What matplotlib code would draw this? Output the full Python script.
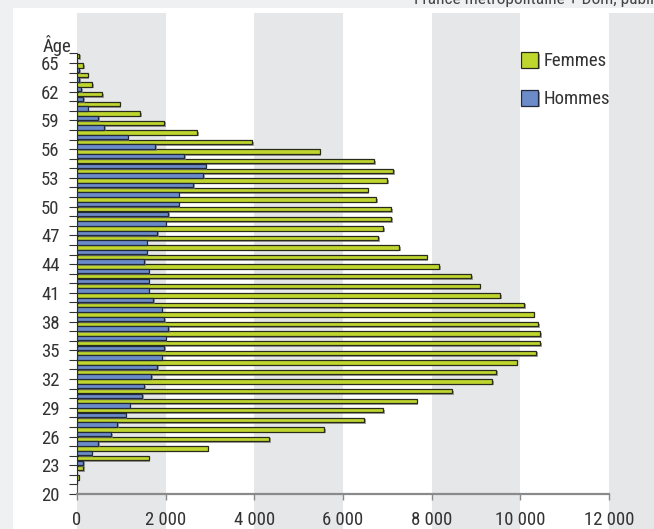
import matplotlib
matplotlib.use("Agg")
import matplotlib.pyplot as plt
import matplotlib.patheffects as pe
from matplotlib.patches import Rectangle
from matplotlib.transforms import blended_transform_factory

# data (age = lower edge of the one-year slot)
ages = list(range(65, 20, -1))
femmes = [50, 140, 240, 340, 570, 960, 1430, 1960, 2710, 3950, 5470, 6700, 7130, 6990,
          6560, 6750, 7080, 7080, 6900, 6800, 7270, 7890, 8170, 8890, 9080, 9540, 10080,
          10300, 10400, 10450, 10450, 10350, 9920, 9450, 9370, 8460, 7660, 6900, 6470,
          5570, 4330, 2950, 1620, 140, 40]
hommes = [10, 50, 50, 100, 140, 240, 480, 620, 1140, 1770, 2420, 2900, 2850, 2620, 2290,
          2290, 2050, 2000, 1810, 1570, 1570, 1520, 1620, 1620, 1620, 1720, 1910, 1960,
          2050, 2000, 1960, 1910, 1810, 1670, 1520, 1470, 1190, 1100, 910, 770, 480, 330,
          140, 0, 0]
xticks = [0, 2000, 4000, 6000, 8000, 10000, 12000]
xtick_labels = ["0", "2 000", "4 000", "6 000", "8 000", "10 000", "12 000"]
series_names = ["Femmes", "Hommes"]

green = "#bfd62f"
blue = "#6b8cc8"
text_col = "#333333"

plt.rcParams["font.family"] = ["Roboto Condensed", "Liberation Sans Narrow", "Roboto", "DejaVu Sans"]
plt.rcParams["font.size"] = 12

W, H = 654, 529
fig = plt.figure(figsize=(W / 100, H / 100), dpi=100, facecolor="#eef0f2")

# white panel
fig.add_artist(Rectangle((12.5 / W, 0), 1, 1 - 8 / H, transform=fig.transFigure,
                         facecolor="white", edgecolor="none", zorder=-2))

ax = fig.add_axes([77 / W, 1 - 494 / H, (609 - 77) / W, (494 - 53.4) / H])
ax.set_facecolor("none")
ax.set_xlim(0, 12000)
ax.set_ylim(20, 66)

# grey vertical bands, running the full panel height
tr = blended_transform_factory(ax.transData, fig.transFigure)
for x0, w in [(0, 2000), (4000, 2000), (8000, 2000), (12000, 1500)]:
    ax.add_patch(Rectangle((x0, 0), w, 1 - 12.5 / H, transform=tr, facecolor="#e6e7e9",
                           edgecolor="none", zorder=0, clip_on=False))

shadow = [pe.SimplePatchShadow(offset=(1.2, -1.2), shadow_rgbFace="#7a7a7a", alpha=0.7), pe.Normal()]
yf = [a + 0.74 for a in ages]
yh = [a + 0.26 for a in ages]
bf = ax.barh(yf, femmes, height=0.46, color=green, edgecolor="#2a2a1a", linewidth=0.9, zorder=3)
bh = ax.barh(yh, hommes, height=0.46, color=blue, edgecolor="#222a3a", linewidth=0.9, zorder=3)
for p in list(bf) + list(bh):
    p.set_path_effects(shadow)

for s in ["top", "right"]:
    ax.spines[s].set_visible(False)
ax.spines["left"].set_color("#555555")
ax.spines["left"].set_linewidth(0.8)
ax.spines["bottom"].set_color("#8a8a8a")
ax.spines["bottom"].set_linewidth(1.6)

yt = list(range(20, 67))
ax.set_yticks(yt)
ax.set_yticklabels([str(a) if (a - 20) % 3 == 0 and a <= 65 else "" for a in yt])
ax.tick_params(axis="y", length=6, width=0.8, color="#333333", pad=6.5, labelsize=13.5,
               labelcolor=text_col)
ax.set_xticks(xticks)
ax.set_xticklabels(xtick_labels)
ax.tick_params(axis="x", length=4, width=1, color="#8a8a8a", pad=8, labelsize=13.5,
               labelcolor=text_col)

fig.text(43 / W, 1 - 46 / H, "Âge", ha="left", va="center", fontsize=13.5, color=text_col)
fig.text(414 / W, 1 - 4 / H, "France métropolitaine + Dom, public", ha="left", va="baseline",
         fontsize=12.5, color="#444444")

leg = ax.legend([bf, bh], series_names, loc="upper left", bbox_to_anchor=(521 / W, 1 - 52 / H),
                bbox_transform=fig.transFigure, frameon=False, handlelength=0.9,
                handleheight=0.9, handletextpad=0.3, labelspacing=1.05, borderpad=0,
                borderaxespad=0, fontsize=13.5)
for t in leg.get_texts():
    t.set_color(text_col)

fig.savefig("out.png", dpi=100, facecolor=fig.get_facecolor())
